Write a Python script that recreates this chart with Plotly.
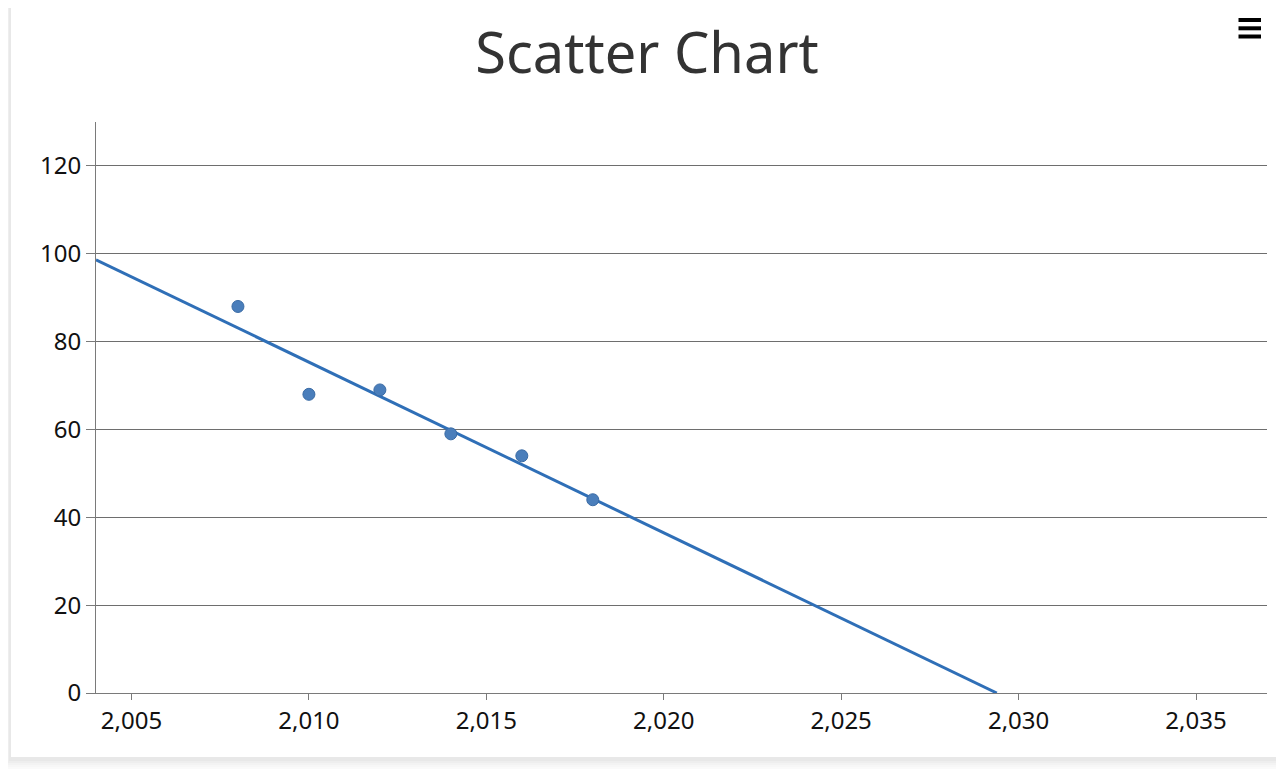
import numpy as np
import plotly.graph_objects as go

# ---- data ----
years = [2008, 2010, 2012, 2014, 2016, 2018]
values = [88, 68, 69, 59, 54, 44]
x_ticks = [2005, 2010, 2015, 2020, 2025, 2030, 2035]
x_tick_labels = ["2,005", "2,010", "2,015", "2,020", "2,025", "2,030", "2,035"]
y_ticks = [0, 20, 40, 60, 80, 100, 120]
y_tick_labels = ["0", "20", "40", "60", "80", "100", "120"]
title_text = "Scatter Chart"

X_RANGE = [2004, 2037]
Y_RANGE = [0, 130]

# linear trendline (least squares) computed from the data
slope, intercept = np.polyfit(years, values, 1)
x_zero = -intercept / slope
trend_x = [X_RANGE[0], x_zero]
trend_y = [slope * X_RANGE[0] + intercept, 0]

# page body adds an 8px offset; figure is sized to fit the window
OFF = 8
W, H = 1284 - OFF, 769 - OFF
L, R, T, B = 96 - OFF, 17, 122 - OFF, 76
pw, ph = W - L - R, H - T - B


def px_x(px):
    # px given in window coordinates
    return (px - OFF - L) / pw


def px_y(py):
    return (H - B - (py - OFF)) / ph


fig = go.Figure()
fig.add_trace(go.Scatter(
    x=trend_x, y=trend_y, mode="lines",
    line=dict(color="#2F6FB7", width=3),
    hoverinfo="skip", showlegend=False,
))
fig.add_trace(go.Scatter(
    x=years, y=values, mode="markers",
    marker=dict(size=12, color="#4A7EBB", line=dict(color="#3A6BA5", width=1)),
    showlegend=False,
))

shapes = []
# soft card shadow + card
for i, a in enumerate([0.012, 0.016, 0.02, 0.025]):
    d = 8 - i * 2
    shapes.append(dict(type="rect", xref="paper", yref="paper", layer="below",
                       x0=px_x(11 - d), x1=px_x(1280 + d), y0=px_y(757 + d + 2), y1=px_y(7 - d + 2),
                       line=dict(width=0), fillcolor=f"rgba(0,0,0,{a})"))
shapes.append(dict(type="rect", xref="paper", yref="paper", layer="below",
                   x0=px_x(11), x1=px_x(1280), y0=px_y(757), y1=px_y(7),
                   line=dict(width=0), fillcolor="white"))
# hamburger menu icon
for py in [20, 28.3, 36.5]:
    shapes.append(dict(type="line", xref="paper", yref="paper",
                       x0=px_x(1238.5), x1=px_x(1261), y0=px_y(py), y1=px_y(py),
                       line=dict(color="black", width=4)))

fig.update_layout(
    width=W, height=H,
    margin=dict(l=L, r=R, t=T, b=B, pad=0),
    paper_bgcolor="#fafafa",
    plot_bgcolor="white",
    font=dict(family="Noto Sans, Open Sans, sans-serif", color="#111111", size=24),
    title=dict(text=title_text, x=(647 - OFF) / W, xanchor="center",
               y=1 - (53 - OFF) / H, yanchor="middle",
               font=dict(family="Noto Sans, Open Sans, sans-serif", size=56, color="#333333")),
    shapes=shapes,
    xaxis=dict(
        range=X_RANGE, tickvals=x_ticks, ticktext=x_tick_labels,
        showgrid=False, zeroline=False,
        showline=True, linecolor="#7a7a7a", linewidth=1,
        ticks="outside", ticklen=6, tickcolor="#7a7a7a", tickwidth=1,
        tickfont=dict(size=24, color="#111111"),
    ),
    yaxis=dict(
        range=Y_RANGE, tickvals=y_ticks, ticktext=y_tick_labels,
        showgrid=True, gridcolor="#6e6e6e", gridwidth=1, zeroline=False,
        showline=True, linecolor="#7a7a7a", linewidth=1,
        ticks="outside", ticklen=9, tickcolor="#7a7a7a", tickwidth=1,
        tickfont=dict(size=24, color="#111111"),
    ),
)

fig.write_html("out.html")
